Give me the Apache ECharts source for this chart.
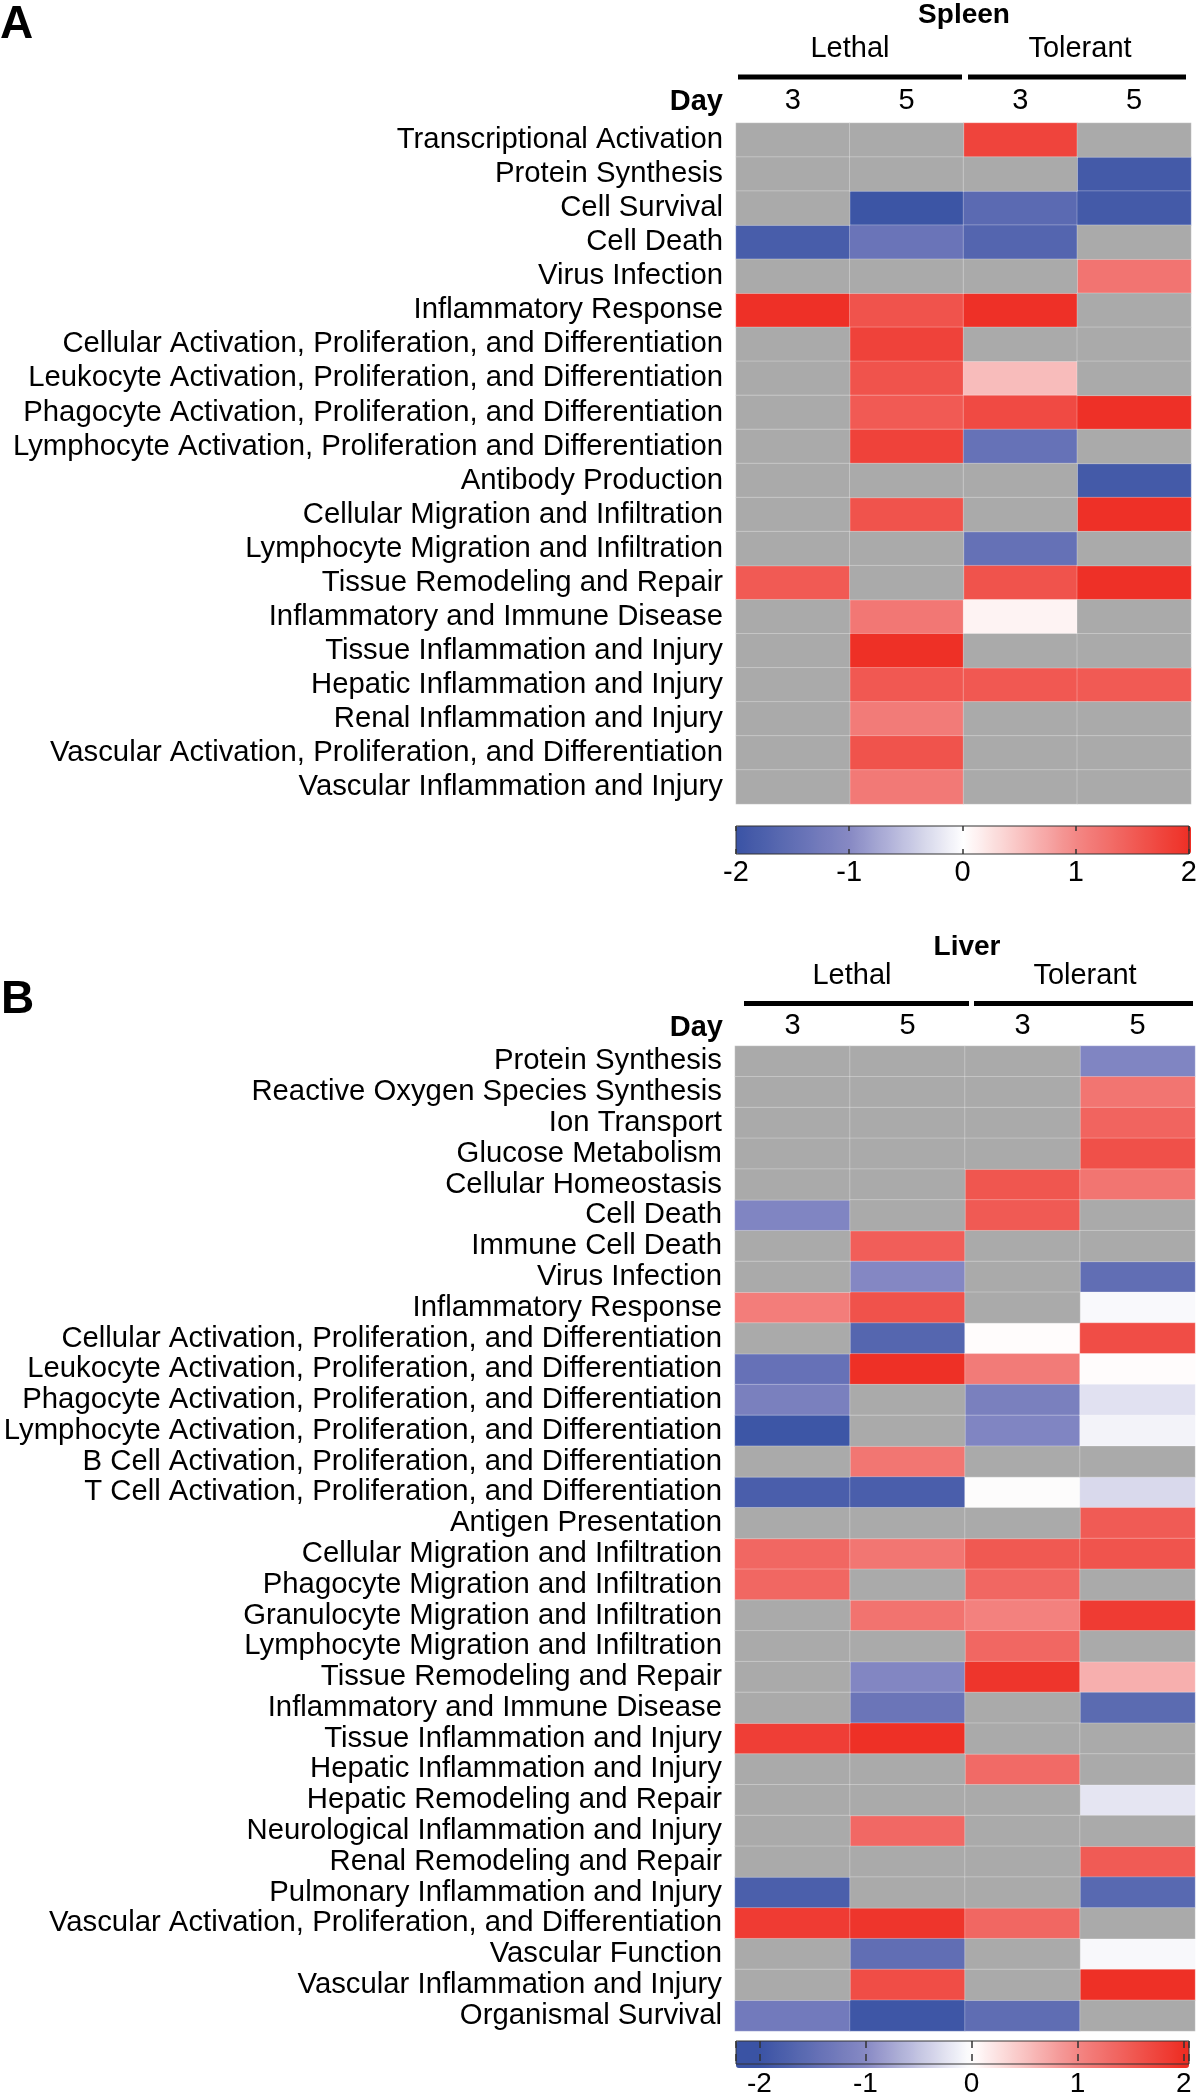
<!DOCTYPE html>
<html><head><meta charset="utf-8">
<script src="https://cdn.jsdelivr.net/npm/echarts@6/dist/echarts.min.js"></script>
<style>html,body{margin:0;padding:0;background:#fff}#c{width:1200px;height:2098px}</style>
</head><body><div id="c"></div>
<script>
// ---------- DATA ----------
const columns = ['Lethal D3', 'Lethal D5', 'Tolerant D3', 'Tolerant D5'];
const dayLabels = ['3', '5', '3', '5'];
const groupLabels = ['Lethal', 'Tolerant'];

const spleenRows = [
  'Transcriptional Activation', 'Protein Synthesis', 'Cell Survival', 'Cell Death', 'Virus Infection',
  'Inflammatory Response', 'Cellular Activation, Proliferation, and Differentiation',
  'Leukocyte Activation, Proliferation, and Differentiation', 'Phagocyte Activation, Proliferation, and Differentiation',
  'Lymphocyte Activation, Proliferation and Differentiation', 'Antibody Production',
  'Cellular Migration and Infiltration', 'Lymphocyte Migration and Infiltration', 'Tissue Remodeling and Repair',
  'Inflammatory and Immune Disease', 'Tissue Inflammation and Injury', 'Hepatic Inflammation and Injury',
  'Renal Inflammation and Injury', 'Vascular Activation, Proliferation, and Differentiation',
  'Vascular Inflammation and Injury'
];
const spleenLethal3   = [null, null, null, -1.82, null, 1.97, null, null, null, null, null, null, null, 1.5, null, null, null, null, null, null];
const spleenLethal5   = [null, null, -1.97, -1.38, null, 1.58, 1.77, 1.58, 1.5, 1.77, null, 1.58, null, null, 1.17, 1.98, 1.52, 1.13, 1.58, 1.15];
const spleenTolerant3 = [1.75, null, -1.57, -1.66, null, 1.97, null, 0.55, 1.68, -1.42, null, null, -1.44, 1.58, 0.1, null, 1.52, null, null, null];
const spleenTolerant5 = [null, -1.87, -1.87, null, 1.2, null, null, null, 1.97, null, -1.87, 1.97, null, 1.97, null, null, 1.5, null, null, null];

const liverRows = [
  'Protein Synthesis', 'Reactive Oxygen Species Synthesis', 'Ion Transport', 'Glucose Metabolism',
  'Cellular Homeostasis', 'Cell Death', 'Immune Cell Death', 'Virus Infection', 'Inflammatory Response',
  'Cellular Activation, Proliferation, and Differentiation', 'Leukocyte Activation, Proliferation, and Differentiation',
  'Phagocyte Activation, Proliferation, and Differentiation', 'Lymphocyte Activation, Proliferation, and Differentiation',
  'B Cell Activation, Proliferation, and Differentiation', 'T Cell Activation, Proliferation, and Differentiation',
  'Antigen Presentation', 'Cellular Migration and Infiltration', 'Phagocyte Migration and Infiltration',
  'Granulocyte Migration and Infiltration', 'Lymphocyte Migration and Infiltration', 'Tissue Remodeling and Repair',
  'Inflammatory and Immune Disease', 'Tissue Inflammation and Injury', 'Hepatic Inflammation and Injury',
  'Hepatic Remodeling and Repair', 'Neurological Inflammation and Injury', 'Renal Remodeling and Repair',
  'Pulmonary Inflammation and Injury', 'Vascular Activation, Proliferation, and Differentiation',
  'Vascular Function', 'Vascular Inflammation and Injury', 'Organismal Survival'
];
const liverLethal3   = [null, null, null, null, null, -1.08, null, null, 1.1, null, -1.43, -1.17, -1.96, null, -1.79, null, 1.36, 1.36, null, null, null, null, 1.82, null, null, null, null, -1.78, 1.85, null, null, -1.27];
const liverLethal5   = [null, null, null, null, null, null, 1.45, -1.04, 1.59, -1.65, 1.97, null, null, 1.18, -1.79, null, 1.18, null, 1.22, null, -1.06, -1.36, 1.97, null, null, 1.34, null, null, 1.92, -1.49, 1.64, -1.95];
const liverTolerant3 = [null, null, null, null, 1.55, 1.5, null, null, null, 0.02, 1.12, -1.17, -1.08, null, 0.0, null, 1.52, 1.36, 1.06, 1.36, 1.92, null, null, 1.31, null, null, null, null, 1.36, null, null, -1.52];
const liverTolerant5 = [-1.08, 1.2, 1.39, 1.61, 1.2, null, null, -1.49, -0.05, 1.64, 0.02, -0.25, -0.1, null, -0.32, 1.49, 1.57, null, 1.85, null, 0.66, -1.57, null, null, -0.22, null, 1.49, -1.6, null, -0.06, 1.97, null];

const spleenScale = [-2, 2];
const liverScale = [-2.22, 2.05];

// ---------- COLOUR MAP ----------
const stopVals = [-2, -1, 0, 1, 2];
const stopCols = [[58, 83, 164], [135, 137, 196], [255, 255, 255], [243, 134, 132], [238, 46, 36]];
function cmap(v) {
  v = Math.max(-2, Math.min(2, v));
  let k = 0;
  while (k < stopVals.length - 2 && v > stopVals[k + 1]) k++;
  const t = (v - stopVals[k]) / (stopVals[k + 1] - stopVals[k]);
  const a = stopCols[k], b = stopCols[k + 1];
  const c = a.map((x, i) => Math.round(x + (b[i] - x) * t));
  return 'rgb(' + c.join(',') + ')';
}
function ramp(lo, hi) {
  const out = [];
  const n = 80;
  for (let i = 0; i <= n; i++) out.push(cmap(lo + (hi - lo) * i / n));
  return out;
}
function cells(cols) {
  const colored = [], na = [];
  cols.forEach((arr, j) => arr.forEach((v, i) => {
    if (v === null) na.push([j, i, 0]); else colored.push([j, i, v]);
  }));
  return { colored, na };
}
const A = cells([spleenLethal3, spleenLethal5, spleenTolerant3, spleenTolerant5]);
const B = cells([liverLethal3, liverLethal5, liverTolerant3, liverTolerant5]);

const FONT = 'Liberation Sans, Arial, Helvetica, sans-serif';
const GRAY = '#aaaaaa';

function catX(gridIndex, margin) {
  return {
    gridIndex, type: 'category', position: 'top', data: columns,
    axisLine: { show: false }, axisTick: { show: false }, splitLine: { show: false },
    axisLabel: { interval: 0, fontFamily: FONT, fontSize: 29, color: '#000', margin, formatter: (v, i) => dayLabels[i] }
  };
}
function catY(gridIndex, rows, size) {
  return {
    gridIndex, type: 'category', inverse: true, data: rows,
    axisLine: { show: false }, axisTick: { show: false }, splitLine: { show: false },
    axisLabel: { interval: 0, fontFamily: FONT, fontSize: size, color: '#000', margin: 13 }
  };
}
const cellBorder = { borderColor: 'rgba(255,255,255,0.28)', borderWidth: 1 };

function txt(text, x, y, size, bold, align) {
  return { type: 'text', style: { text, x, y, fill: '#000', font: (bold ? 'bold ' : '') + size + 'px ' + FONT, align: align || 'center', verticalAlign: 'middle' } };
}
function ln(x1, x2, y) {
  return { type: 'line', shape: { x1, y1: y, x2, y2: y }, style: { stroke: '#000', lineWidth: 5 } };
}

const option = {
  animation: false,
  backgroundColor: '#fff',
  grid: [
    { left: 736, top: 123, width: 455, height: 681 },
    { left: 736, top: 826, width: 455, height: 28, show: true, backgroundColor: 'transparent', borderColor: '#333', borderWidth: 1, z: 6 },
    { left: 735, top: 1046, width: 460, height: 985 },
    { left: 736, top: 2041, width: 453, height: 27, show: true, backgroundColor: 'transparent', borderColor: '#333', borderWidth: 1, z: 6 }
  ],
  xAxis: [
    catX(0, 8),
    { gridIndex: 1, type: 'value', min: spleenScale[0], max: spleenScale[1], interval: 1, position: 'bottom', z: 10,
      axisLine: { show: false }, splitLine: { show: false },
      axisTick: { show: true, inside: true, length: 5, lineStyle: { color: '#333', width: 1.5 } },
      axisLabel: { fontFamily: FONT, fontSize: 29, color: '#000', margin: 4 } },
    { gridIndex: 1, type: 'value', min: spleenScale[0], max: spleenScale[1], interval: 1, position: 'top', z: 10,
      axisLine: { show: false }, splitLine: { show: false }, axisLabel: { show: false },
      axisTick: { show: true, inside: true, length: 5, lineStyle: { color: '#333', width: 1.5 } } },
    catX(2, 6),
    { gridIndex: 3, type: 'value', min: liverScale[0], max: liverScale[1], splitNumber: 4, position: 'bottom', z: 10,
      axisLine: { show: false }, axisTick: { show: false },
      splitLine: { show: true, lineStyle: { color: '#333', width: 1.5, type: [7, 6] } },
      axisLabel: { fontFamily: FONT, fontSize: 28, color: '#000', margin: 6, showMinLabel: false, showMaxLabel: false } }
  ],
  yAxis: [
    catY(0, spleenRows, 29.3),
    { gridIndex: 1, type: 'value', show: false, min: 0, max: 1 },
    catY(2, liverRows, 29.3),
    { gridIndex: 3, type: 'value', show: false, min: 0, max: 1 }
  ],
  visualMap: [
    { type: 'continuous', seriesIndex: 0, min: spleenScale[0], max: spleenScale[1], orient: 'horizontal',
      left: 736, top: 826, itemWidth: 28, itemHeight: 455, padding: 0, calculable: false, hoverLink: false,
      text: null, inRange: { color: ramp(spleenScale[0], spleenScale[1]) } },
    { type: 'continuous', seriesIndex: 2, min: liverScale[0], max: liverScale[1], orient: 'horizontal',
      left: 736, top: 2041, itemWidth: 27, itemHeight: 453, padding: 0, calculable: false, hoverLink: false,
      text: null, inRange: { color: ramp(liverScale[0], liverScale[1]) } }
  ],
  series: [
    { type: 'heatmap', xAxisIndex: 0, yAxisIndex: 0, data: A.colored, itemStyle: cellBorder, emphasis: { disabled: true } },
    { type: 'heatmap', xAxisIndex: 0, yAxisIndex: 0, data: A.na, itemStyle: Object.assign({ color: GRAY }, cellBorder), emphasis: { disabled: true } },
    { type: 'heatmap', xAxisIndex: 3, yAxisIndex: 2, data: B.colored, itemStyle: cellBorder, emphasis: { disabled: true } },
    { type: 'heatmap', xAxisIndex: 3, yAxisIndex: 2, data: B.na, itemStyle: Object.assign({ color: GRAY }, cellBorder), emphasis: { disabled: true } }
  ],
  graphic: [
    txt('A', 0, 25, 46, true, 'left'),
    txt('Spleen', 964, 15, 28, true),
    txt(groupLabels[0], 850, 49, 29, false),
    txt(groupLabels[1], 1080, 49, 29, false),
    ln(738, 962, 77), ln(968, 1186, 77),
    txt('Day', 723, 102, 29, true, 'right'),
    txt('B', 1, 1000, 46, true, 'left'),
    txt('Liver', 967, 947, 28, true),
    txt(groupLabels[0], 852, 976, 29, false),
    txt(groupLabels[1], 1085, 976, 29, false),
    ln(744, 969, 1003.5), ln(974, 1193, 1003.5),
    txt('Day', 723, 1028, 29, true, 'right')
  ]
};
const chart = echarts.init(document.getElementById('c'), null, { renderer: 'canvas' });
chart.setOption(option);
</script>
</body></html>
